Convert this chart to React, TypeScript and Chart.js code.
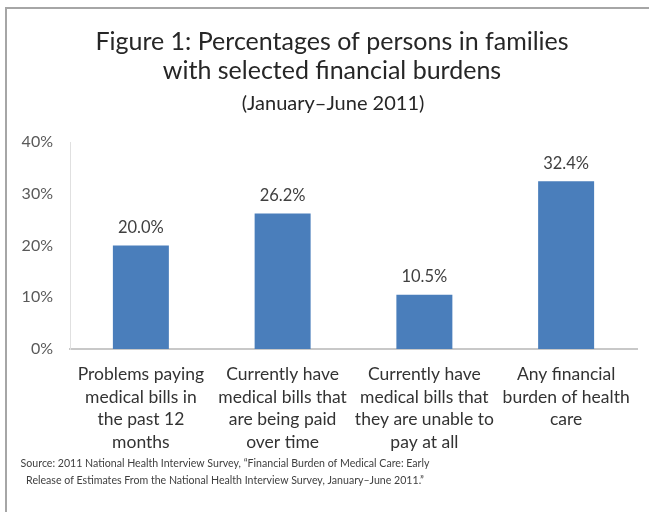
import React, { useEffect, useRef } from "react";
import { Chart, registerables } from "chart.js";

Chart.register(...registerables);

const categories: string[][] = [
  ["Problems paying", "medical bills in", "the past 12", "months"],
  ["Currently have", "medical bills that", "are being paid", "over time"],
  ["Currently have", "medical bills that", "they are unable to", "pay at all"],
  ["Any financial", "burden of health", "care"],
];
const values = [20.0, 26.2, 10.5, 32.4];
const yMin = 0;
const yMax = 40;
const yStep = 10;
const titleLines = ["Figure 1: Percentages of persons in families", "with selected financial burdens"];
const subtitle = "(January\u2013June 2011)";
const sourceLines = [
  "Source: 2011 National Health Interview Survey, \u201cFinancial Burden of Medical Care: Early",
  "Release of Estimates From the National Health Interview Survey, January\u2013June 2011.\u201d",
];

const FONT = "Lato, 'Open Sans', sans-serif";
const W = 649;
const H = 512;

const decorPlugin = {
  id: "decor",
  beforeDraw(chart: any) {
    const ctx = chart.ctx;
    ctx.save();
    ctx.fillStyle = "#ffffff";
    ctx.fillRect(0, 0, W, H);
    ctx.strokeStyle = "#a6a6a6";
    ctx.lineWidth = 2;
    ctx.beginPath();
    ctx.moveTo(W, 8);
    ctx.lineTo(6, 8);
    ctx.lineTo(6, H);
    ctx.stroke();
    ctx.restore();
  },
  afterDraw(chart: any) {
    const ctx = chart.ctx;
    ctx.save();
    ctx.textAlign = "center";
    ctx.textBaseline = "middle";
    ctx.fillStyle = "#262626";
    ctx.font = `25px ${FONT}`;
    ctx.fillText(titleLines[0], 332, 42);
    ctx.fillText(titleLines[1], 332, 71);
    ctx.font = `20px ${FONT}`;
    ctx.fillText(subtitle, 333, 104);

    // value labels
    ctx.fillStyle = "#404040";
    ctx.font = `16.5px ${FONT}`;
    const meta = chart.getDatasetMeta(0);
    meta.data.forEach((bar: any, i: number) => {
      ctx.fillText(values[i].toFixed(1) + "%", bar.x, bar.y - 18);
    });

    // source
    ctx.fillStyle = "#404040";
    ctx.font = `10.6px ${FONT}`;
    ctx.fillText(sourceLines[0], 225, 464);
    ctx.fillText(sourceLines[1], 225, 481);
    ctx.restore();
  },
};

export default function App() {
  const ref = useRef<HTMLCanvasElement | null>(null);
  useEffect(() => {
    if (!ref.current) return;
    const chart = new Chart(ref.current, {
      type: "bar",
      data: {
        labels: categories,
        datasets: [
          {
            data: values,
            backgroundColor: "#4a7ebb",
            borderWidth: 0,
            categoryPercentage: 1,
            barPercentage: 0.395,
          },
        ],
      },
      options: {
        animation: false,
        responsive: false,
        maintainAspectRatio: false,
        layout: { padding: { top: 142, left: 0, right: 12, bottom: 0 } },
        plugins: { legend: { display: false }, tooltip: { enabled: false }, title: { display: false } },
        scales: {
          x: {
            grid: { display: false, drawTicks: false },
            border: { display: true, color: "#c8c8c8", width: 2 },
            ticks: {
              color: "#333333",
              font: { family: FONT, size: 17.5, lineHeight: "22.7px" },
              padding: 14,
              maxRotation: 0,
              autoSkip: false,
            },
            afterFit(scale: any) {
              scale.height = 163;
            },
          },
          y: {
            min: yMin,
            max: yMax,
            grid: { display: false, drawTicks: false },
            border: { display: true, color: "#e0e0e0", width: 1 },
            ticks: {
              stepSize: yStep,
              color: "#595959",
              font: { family: FONT, size: 16 },
              padding: 17,
              callback: (v: any) => v + "%",
            },
            afterFit(scale: any) {
              scale.width = 70;
            },
          },
        },
      },
      plugins: [decorPlugin],
    });
    return () => chart.destroy();
  }, []);
  return (
    <div style={{ position: "fixed", left: 0, top: 0, width: W, height: H, background: "#fff" }}>
      <canvas ref={ref} width={W} height={H} style={{ width: W, height: H, display: "block" }} />
    </div>
  );
}
